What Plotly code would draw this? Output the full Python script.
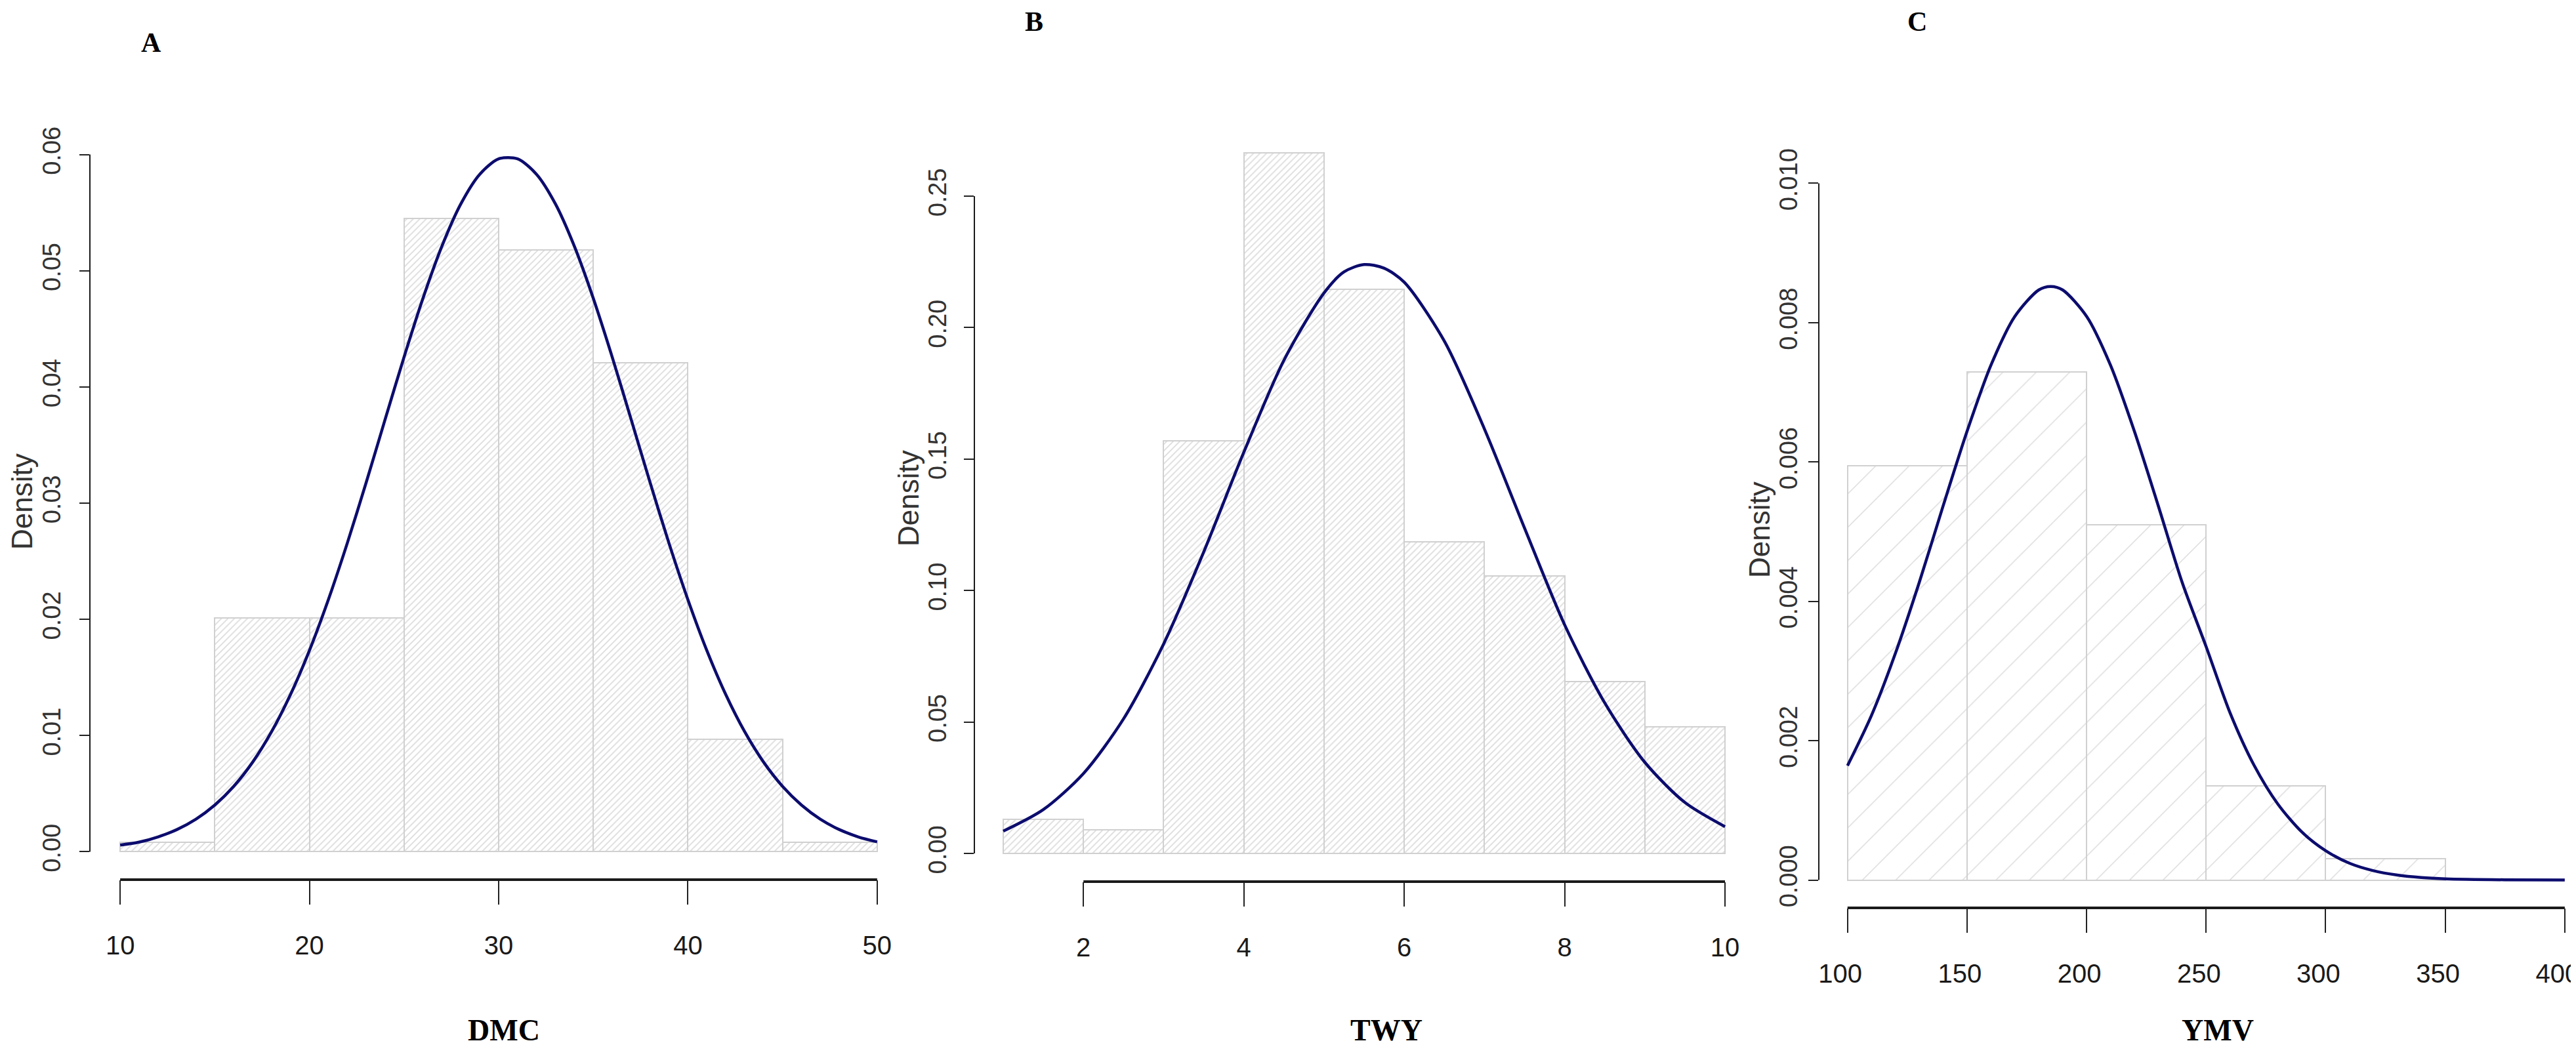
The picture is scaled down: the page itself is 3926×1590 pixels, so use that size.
import plotly.graph_objects as go

W, H = 3926, 1590

# ---------------- data ----------------
# Panel A : DMC
dmc_edges = [10, 15, 20, 25, 30, 35, 40, 45, 50]
dmc_density = [0.0008, 0.0201, 0.0201, 0.0545, 0.0518, 0.0421, 0.0097, 0.0008]
dmc_curve_x = [10, 11, 12, 13, 14, 15, 16, 17, 18, 19, 20, 21, 22, 23, 24, 25, 26, 27, 28, 29, 30,
               31, 32, 33, 34, 35, 36, 37, 38, 39, 40, 41, 42, 43, 44, 45, 46, 47, 48, 49, 50]
dmc_curve_y = [0.00058, 0.00083, 0.00128, 0.00191, 0.0028, 0.00402, 0.00563, 0.00771, 0.01033,
               0.01353, 0.01732, 0.02169, 0.02655, 0.03178, 0.0372, 0.04257, 0.04763, 0.05211,
               0.05575, 0.0583, 0.05963, 0.05963, 0.0583, 0.05575, 0.05211, 0.04763, 0.04257,
               0.0372, 0.03178, 0.02655, 0.02169, 0.01732, 0.01353, 0.01033, 0.00771, 0.00563,
               0.00402, 0.0028, 0.00191, 0.00128, 0.00085]
dmc_xticks = [10, 20, 30, 40, 50]
dmc_yticks = [0.00, 0.01, 0.02, 0.03, 0.04, 0.05, 0.06]
dmc_ytext = ["0.00", "0.01", "0.02", "0.03", "0.04", "0.05", "0.06"]

# Panel B : TWY
twy_edges = [1, 2, 3, 4, 5, 6, 7, 8, 9, 10]
twy_density = [0.0129, 0.0089, 0.157, 0.2665, 0.2147, 0.1185, 0.1056, 0.0655, 0.0482]
twy_curve_x = [1, 1.5, 2, 2.5, 3, 3.5, 4, 4.5, 5, 5.25, 5.5, 5.75, 6, 6.5, 7, 7.5, 8, 8.5, 9, 9.5, 10]
twy_curve_y = [0.0085, 0.0167, 0.0304, 0.0512, 0.0797, 0.1147, 0.1526, 0.1876, 0.2132, 0.2212,
               0.2240, 0.2226, 0.2173, 0.1949, 0.1615, 0.1238, 0.0870, 0.0573, 0.0347, 0.0194,
               0.0102]
twy_xticks = [2, 4, 6, 8, 10]
twy_yticks = [0.00, 0.05, 0.10, 0.15, 0.20, 0.25]
twy_ytext = ["0.00", "0.05", "0.10", "0.15", "0.20", "0.25"]

# Panel C : YMV
ymv_edges = [100, 150, 200, 250, 300, 350]
ymv_density = [0.00595, 0.00729, 0.0051, 0.00135, 0.00031]
ymv_curve_x = [100, 110, 120, 130, 140, 150, 160, 170, 180, 185, 190, 200, 210, 220, 230, 240, 250,
               260, 270, 280, 290, 300, 310, 320, 330, 340, 350, 375, 400]
ymv_curve_y = [0.00164, 0.00236, 0.00325, 0.00427, 0.00537, 0.00644, 0.00739, 0.00809, 0.00847,
               0.00852, 0.00847, 0.00809, 0.00739, 0.00644, 0.00537, 0.00427, 0.00335, 0.00240,
               0.00165, 0.00109, 0.00069, 0.00042, 0.00024, 0.000133, 0.00007, 0.000035,
               0.000017, 0.000003, 0.0000003]
ymv_xticks = [100, 150, 200, 250, 300, 350, 400]
ymv_yticks = [0.000, 0.002, 0.004, 0.006, 0.008, 0.010]
ymv_ytext = ["0.000", "0.002", "0.004", "0.006", "0.008", "0.010"]

panel_letters = ["A", "B", "C"]
x_titles = ["DMC", "TWY", "YMV"]
y_title = "Density"

# ---------------- layout helpers ----------------
def px_x(p):
    return p / W

def px_y(p):
    return 1 - p / H

panels = [
    dict(edges=dmc_edges, dens=dmc_density, cx=dmc_curve_x, cy=dmc_curve_y,
         xt=dmc_xticks, yt=dmc_yticks, ytext=dmc_ytext,
         region=(129, 1375, 185, 1333), xr=[8.4, 51.6], yr=[-0.0024, 0.0624],
         psize=7, psol=0.25, ystand=14, xshift=0, letter=(222, 32), xtitle=760, ytitle=(25, 757)),
    dict(edges=twy_edges, dens=twy_density, cx=twy_curve_x, cy=twy_curve_y,
         xt=twy_xticks, yt=twy_yticks, ytext=twy_ytext,
         region=(1477, 2665, 176, 1336), xr=[0.64, 10.36], yr=[-0.0107, 0.2787],
         psize=7, psol=0.25, ystand=12, xshift=0, letter=(1568, 0), xtitle=2105, ytitle=(1376, 752)),
    dict(edges=ymv_edges, dens=ymv_density, cx=ymv_curve_x, cy=ymv_curve_y,
         xt=ymv_xticks, yt=ymv_yticks, ytext=ymv_ytext,
         region=(2764, 3926, 229, 1376), xr=[88, 406.9], yr=[-0.0004, 0.0104],
         psize=36, psol=0.04, ystand=2, xshift=-11, letter=(2914, 0), xtitle=3372, ytitle=(2673, 800)),
]

fig = go.Figure()
shapes = []
annotations = []
tick_font = dict(family="Liberation Sans, Arial, sans-serif", size=40, color="#1a1a1a")
ytick_font = dict(family="Liberation Sans, Arial, sans-serif", size=38, color="#333333")
curve_color = "#0c0c6e"

for i, p in enumerate(panels):
    n = "" if i == 0 else str(i + 1)
    xa, ya = "x" + n, "y" + n
    edges = p["edges"]
    centers = [(a + b) / 2 for a, b in zip(edges[:-1], edges[1:])]
    widths = [b - a for a, b in zip(edges[:-1], edges[1:])]
    fig.add_trace(go.Bar(
        x=centers, y=p["dens"], width=widths, xaxis=xa, yaxis=ya,
        marker=dict(color="white", line=dict(color="#d0d0d0", width=2),
                    pattern=dict(shape="/", fgcolor="#b9b9b9", bgcolor="white",
                                 size=p["psize"], solidity=p["psol"])),
        showlegend=False, hoverinfo="skip"))
    fig.add_trace(go.Scatter(
        x=p["cx"], y=p["cy"], xaxis=xa, yaxis=ya, mode="lines",
        line=dict(color=curve_color, width=4.5, shape="spline", smoothing=0.8),
        showlegend=False, hoverinfo="skip"))

    x0, x1, y0, y1 = p["region"]
    fig.layout["xaxis" + n] = dict(
        domain=[px_x(x0), min(1.0, px_x(x1))], range=p["xr"], anchor=ya,
        showgrid=False, zeroline=False, showline=False,
        tickmode="array", tickvals=p["xt"], ticktext=[str(v) for v in p["xt"]],
        ticks="outside", ticklen=37, tickwidth=2, tickcolor="#222222",
        tickfont=tick_font, ticklabelstandoff=28, ticklabelshift=p["xshift"],
        ticklabeloverflow="allow")
    fig.layout["yaxis" + n] = dict(
        domain=[px_y(y1), px_y(y0)], range=p["yr"], anchor=xa,
        showgrid=False, zeroline=False, showline=False,
        tickmode="array", tickvals=p["yt"], ticktext=p["ytext"], tickangle=-90,
        ticks="outside", ticklen=15, tickwidth=2, tickcolor="#222222",
        tickfont=ytick_font, ticklabelstandoff=p["ystand"], ticklabeloverflow="allow")

    # axis lines spanning the tick range only (R style)
    shapes.append(dict(type="line", xref=xa, yref="paper",
                       x0=min(p["xt"]), x1=max(p["xt"]), y0=px_y(y1), y1=px_y(y1),
                       line=dict(color="#1a1a1a", width=4)))
    shapes.append(dict(type="line", xref="paper", yref=ya,
                       x0=px_x(x0), x1=px_x(x0), y0=min(p["yt"]), y1=max(p["yt"]),
                       line=dict(color="#1a1a1a", width=2)))

    lx, ly = p["letter"]
    annotations.append(dict(text="<b>%s</b>" % panel_letters[i], xref="paper", yref="paper",
                            x=px_x(lx), y=px_y(ly), showarrow=False, xanchor="center", yanchor="top",
                            font=dict(family="Liberation Serif, Times New Roman, serif", size=42, color="black")))
    annotations.append(dict(text="<b>%s</b>" % x_titles[i], xref="paper", yref="paper",
                            x=px_x(p["xtitle"]), y=0, showarrow=False, xanchor="center", yanchor="bottom",
                            font=dict(family="Liberation Serif, Times New Roman, serif", size=46, color="black")))
    dx, dy = p["ytitle"]
    annotations.append(dict(text=y_title, xref="paper", yref="paper", textangle=-90,
                            x=px_x(dx), y=px_y(dy), showarrow=False, xanchor="center", yanchor="middle",
                            font=dict(family="Liberation Sans, Arial, sans-serif", size=44, color="#333333")))

fig.update_layout(width=W, height=H, margin=dict(l=0, r=0, t=0, b=0, autoexpand=False),
                  paper_bgcolor="white", plot_bgcolor="white",
                  shapes=shapes, annotations=annotations, barmode="overlay", bargap=0)

fig.write_html("out.html")
